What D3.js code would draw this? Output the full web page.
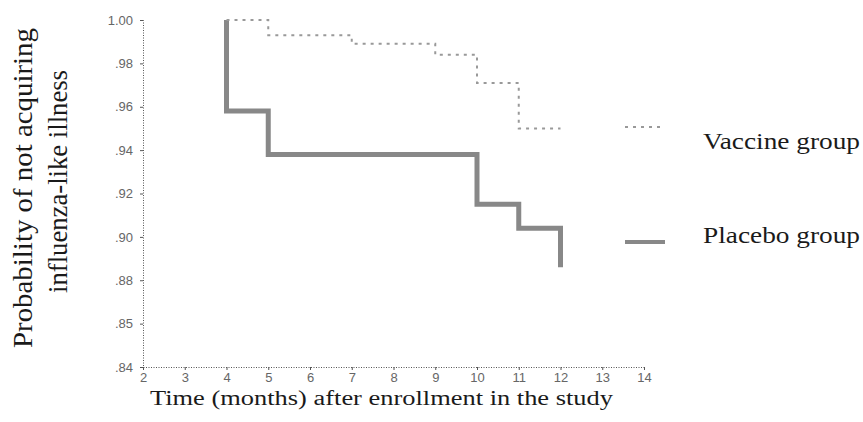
<!DOCTYPE html>
<html lang="en">
	<head>
		<meta charset="UTF-8">
		<title>Influenza-like illness</title>
		<script src="https://d3js.org/d3.v7.min.js"></script>
		<style>
			body { margin: 0; background: #fff; }
			.serif { font-family: "Liberation Serif", "Times New Roman", serif; fill: #1a1a1a; }
			.tick text { font-family: "Liberation Sans", Arial, sans-serif; font-size: 13px; fill: #666; }
		</style>
	</head>
	<body>
		<script>
			var xTicks = [2, 3, 4, 5, 6, 7, 8, 9, 10, 11, 12, 13, 14];
			var yTicks = [0.84, 0.86, 0.88, 0.90, 0.92, 0.94, 0.96, 0.98, 1.00];
			var yTickLabels = ['.84', '.85', '.88', '.90', '.92', '.94', '.96', '.98', '1.00'];

			var vaccineTimes = [4, 5, 7, 9, 10, 11, 12];
			var vaccineValues = [1.00, 0.993, 0.989, 0.984, 0.971, 0.950, 0.950];
			var placeboTimes = [4, 4, 5, 10, 11, 12];
			var placeboValues = [1.00, 0.958, 0.938, 0.915, 0.904, 0.886];

			var legendNames = ['Vaccine group', 'Placebo group'];

			var width = 863, height = 422;

			var x = d3.scaleLinear().domain([2, 14]).range([143, 644]);
			var y = d3.scaleLinear().domain([0.84, 1.00]).range([367, 20]);

			var svg = d3.select('body')
						.append('svg')
						.attr('width', width)
						.attr('height', height);

			// axes (dotted, like the scan)
			svg.append('g')
				.attr('transform', 'translate(0,' + y(0.84) + ')')
				.call(d3.axisBottom(x).tickValues(xTicks).tickFormat(d3.format('d')).tickSize(3).tickPadding(3));
			svg.append('g')
				.attr('transform', 'translate(' + x(2) + ',0)')
				.call(d3.axisLeft(y).tickValues(yTicks)
					.tickFormat(function(d, i) { return yTickLabels[i]; })
					.tickSize(3).tickPadding(7));

			svg.selectAll('.domain')
				.attr('stroke', '#555')
				.attr('stroke-dasharray', '1,1.5');
			svg.selectAll('.tick line').attr('stroke', '#555');

			var line = d3.line()
						.x(function(d) { return x(d[0]); })
						.y(function(d) { return y(d[1]); })
						.curve(d3.curveStepAfter);

			var vaccine = d3.zip(vaccineTimes, vaccineValues);
			var placebo = d3.zip(placeboTimes, placeboValues);

			svg.append('path')
				.datum(placebo)
				.attr('d', line)
				.attr('fill', 'none')
				.attr('stroke', '#888')
				.attr('stroke-width', 5);

			svg.append('path')
				.datum(vaccine)
				.attr('d', line)
				.attr('fill', 'none')
				.attr('stroke', '#999')
				.attr('stroke-width', 2)
				.attr('stroke-dasharray', '3,5');

			// legend
			var legendY = [127, 242];
			svg.append('line')
				.attr('x1', 625).attr('x2', 665)
				.attr('y1', legendY[0]).attr('y2', legendY[0])
				.attr('stroke', '#999')
				.attr('stroke-width', 2)
				.attr('stroke-dasharray', '3,5');
			svg.append('line')
				.attr('x1', 625).attr('x2', 665)
				.attr('y1', legendY[1]).attr('y2', legendY[1])
				.attr('stroke', '#888')
				.attr('stroke-width', 4);

			svg.selectAll('.legend')
				.data(legendNames)
				.enter()
					.append('text')
					.attr('class', 'legend serif')
					.attr('x', 703)
					.attr('y', function(d, i) { return [149, 243][i]; })
					.style('font-size', '24px')
					.attr('textLength', 157)
					.attr('lengthAdjust', 'spacingAndGlyphs')
					.text(function(d) { return d; });

			// titles
			svg.append('text')
				.attr('class', 'serif')
				.attr('x', 150).attr('y', 405)
				.style('font-size', '20px')
				.attr('textLength', 463)
				.attr('lengthAdjust', 'spacingAndGlyphs')
				.text('Time (months) after enrollment in the study');

			var yTitle = svg.append('text')
				.attr('class', 'serif')
				.attr('transform', 'rotate(-90)')
				.style('font-size', '27px');
			yTitle.append('tspan')
				.attr('x', -348).attr('y', 32)
				.attr('textLength', 320)
				.attr('lengthAdjust', 'spacingAndGlyphs')
				.text('Probability of not acquiring');
			yTitle.append('tspan')
				.attr('x', -293).attr('y', 67)
				.attr('textLength', 223)
				.attr('lengthAdjust', 'spacingAndGlyphs')
				.text('influenza-like illness');
		</script>
	</body>
</html>
